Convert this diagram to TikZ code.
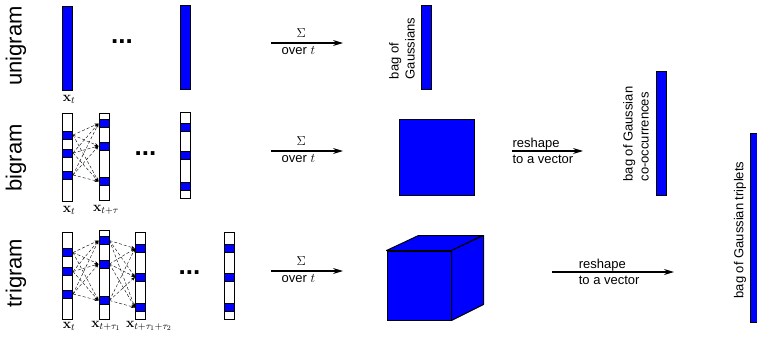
\documentclass[tikz,border=0pt]{standalone}
\usepackage{fix-cm}
\usepackage[no-math]{fontspec}
\setmainfont{Liberation Sans}
\usetikzlibrary{arrows.meta}
\tikzstyle{bar} = [draw=black, line width=1pt, fill=white, minimum width=10pt, inner sep=0pt]
\tikzstyle{full} = [fill=blue]
\tikzstyle{cell} = [draw=black, line width=1pt, fill=blue, minimum width=10pt, minimum height=8pt, inner sep=0pt]
\tikzstyle{link} = [-{Stealth[length=4pt,width=3pt]}, densely dashed, line width=0.4pt]
\tikzstyle{sum} = [-{Stealth[length=10pt,width=6pt]}, line width=1.2pt]
\tikzstyle{ngram} = [rotate=90, font=\fontsize{22}{26}\selectfont]
\tikzstyle{lbl} = [font=\fontsize{13}{16}\selectfont, inner sep=0pt]
\tikzstyle{xlbl} = [font=\fontsize{14}{17}\selectfont, inner sep=0pt]
\tikzstyle{dots} = [font=\fontsize{26}{30}\selectfont\bfseries, inner sep=0pt]

\begin{document}
\begin{tikzpicture}[x=1pt, y=-1pt]
  \useasboundingbox (0,0) rectangle (757,343);
  % unigram
  \node[ngram](uni) at (16,46){unigram};
  \node[bar,full,minimum height=84pt](u1) at (67,48){};
  \node[dots](ud) at (122,42){...};
  \node[bar,full,minimum height=84pt](u2) at (185,47){};
  \node[xlbl](ux1) at (69,99){$\mathbf{x}_t$};
  % bigram
  \node[ngram](bi) at (16,158){bigram};
  \node[bar,minimum height=88pt](b1) at (67.5,157){};
  \node[cell](b1a) at (67.5,135){};
  \node[cell](b1b) at (67.5,153){};
  \node[cell](b1c) at (67.5,175){};
  \node[bar,minimum height=87pt](b2) at (104,156.5){};
  \node[cell](b2a) at (104,123.5){};
  \node[cell](b2b) at (104,146){};
  \node[cell](b2c) at (104,181.5){};
  \node[dots](bd) at (145.5,154){...};
  \node[bar,minimum height=86pt](b3) at (185,155){};
  \node[cell](b3a) at (185,127.5){};
  \node[cell](b3b) at (185,155){};
  \node[cell](b3c) at (185,186.5){};
  \node[xlbl](bx1) at (69,210){$\mathbf{x}_t$};
  \node[xlbl](bx2) at (106,210){$\mathbf{x}_{t+\tau}$};
  \foreach \i in {a,b,c}
    \foreach \j in {a,b,c}
      \draw[link](b1\i.east)--(b2\j.west);
  % trigram
  \node[ngram](tri) at (16,273){trigram};
  \node[bar,minimum height=87pt](t1) at (67.5,275.5){};
  \node[cell](t1a) at (67.5,252.5){};
  \node[cell](t1b) at (67.5,271.5){};
  \node[cell](t1c) at (67.5,294){};
  \node[bar,minimum height=89pt](t2) at (104,274.5){};
  \node[cell](t2a) at (104,240.5){};
  \node[cell](t2b) at (104,264){};
  \node[cell](t2c) at (104,300.5){};
  \node[bar,minimum height=87pt](t3) at (140.5,275.5){};
  \node[cell](t3a) at (140.5,248.5){};
  \node[cell](t3b) at (140.5,277){};
  \node[cell](t3c) at (140.5,307.5){};
  \node[dots](td) at (189.5,273){...};
  \node[bar,minimum height=87pt](t4) at (229.5,275.5){};
  \node[cell](t4a) at (229.5,248.5){};
  \node[cell](t4b) at (229.5,277){};
  \node[cell](t4c) at (229.5,307.5){};
  \node[xlbl](tx1) at (69,326){$\mathbf{x}_t$};
  \node[xlbl](tx2) at (106,326){$\mathbf{x}_{t+\tau_1}$};
  \node[xlbl](tx3) at (149,326){$\mathbf{x}_{t+\tau_1+\tau_2}$};
  \foreach \i in {a,b,c}
    \foreach \j in {a,b,c}{
      \draw[link](t1\i.east)--(t2\j.west);
      \draw[link](t2\i.east)--(t3\j.west);
    }
  % sums over t
  \coordinate (s1a) at (271,43); \coordinate (s1b) at (343,43);
  \coordinate (s2a) at (271,151); \coordinate (s2b) at (343,151);
  \coordinate (s3a) at (271,271); \coordinate (s3b) at (343,271);
  \draw[sum](s1a)--node[lbl,pos=0.42,above=5pt]{$\Sigma$} node[lbl,pos=0.38,below=3pt]{over $t$}(s1b);
  \draw[sum](s2a)--node[lbl,pos=0.42,above=5pt]{$\Sigma$} node[lbl,pos=0.38,below=3pt]{over $t$}(s2b);
  \draw[sum](s3a)--node[lbl,pos=0.42,above=5pt]{$\Sigma$} node[lbl,pos=0.38,below=3pt]{over $t$}(s3b);
  % bag of Gaussians
  \node[bar,full,minimum height=84pt](g1) at (426,47){};
  \node[lbl,rotate=90,align=left](g1t) at (402,48.5){bag of\\Gaussians};
  % co-occurrence matrix
  \node[bar,full,minimum width=75pt,minimum height=76pt](sq) at (436.5,157){};
  % triplet cube
  \node[bar,full,minimum width=64pt,minimum height=69pt](cb) at (419,285.5){};
  \filldraw[fill=blue,line width=1pt,line join=round](cb.north west)--++(32,-15)--++(64,0)--(cb.north east)--cycle;
  \filldraw[fill=blue,line width=1pt,line join=round](cb.north east)--++(32,-15)--++(0,69)--(cb.south east)--cycle;
  % reshaping
  \coordinate (r2a) at (512,151); \coordinate (r2b) at (583,151);
  \coordinate (r3a) at (552,272); \coordinate (r3b) at (674,272);
  \draw[sum](r2a)--node[lbl,align=left,anchor=west,pos=0]{reshape\\to a vector}(r2b);
  \draw[sum](r3a)--node[lbl,align=left,anchor=west,pos=0.215]{reshape\\to a vector}(r3b);
  \node[bar,full,minimum height=124pt](g2) at (661,133){};
  \node[lbl,rotate=90,align=left](g2t) at (636,134){bag of Gaussian\\co-occurrences};
  \node[bar,full,minimum height=189pt](g3) at (755,227.5){};
  \node[lbl,rotate=90](g3t) at (740,230){bag of Gaussian triplets};
\end{tikzpicture}
\end{document}
